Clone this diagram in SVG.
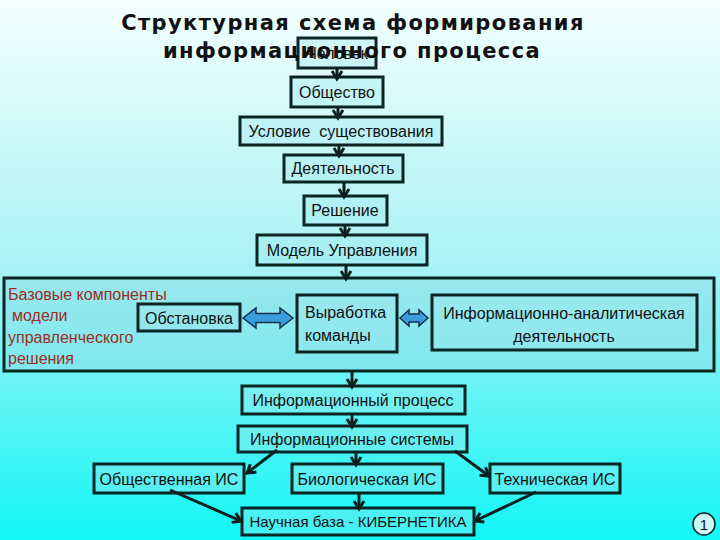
<svg xmlns="http://www.w3.org/2000/svg" width="720" height="540" viewBox="0 0 720 540">
<defs>
<linearGradient id="bg" x1="0" y1="0" x2="0" y2="1">
<stop offset="0" stop-color="#f4ffff"/>
<stop offset="0.5" stop-color="#a8f2f4"/>
<stop offset="1" stop-color="#12f6f6"/>
</linearGradient>
<marker id="ah" markerUnits="userSpaceOnUse" markerWidth="14" markerHeight="14" refX="10" refY="6" orient="auto" overflow="visible">
<path d="M2,1 L10,6 L2,11" fill="none" stroke="#0b1f1f" stroke-width="3" stroke-linejoin="miter"/>
</marker>
<style>
.box{fill:#9ee8ee;fill-opacity:0.35;stroke:#0b2424;stroke-width:3}
.frame{fill:#8fdce6;fill-opacity:0.45;stroke:#0b2424;stroke-width:3}
.t{font-family:"Liberation Sans",Arial,sans-serif;font-size:16px;fill:#111;text-anchor:middle;white-space:pre}
.tl{font-family:"Liberation Sans",Arial,sans-serif;font-size:16px;fill:#111}
.red{font-family:"Liberation Sans",Arial,sans-serif;font-size:16px;fill:#9a2e22}
.title{font-family:"DejaVu Sans",sans-serif;font-weight:bold;font-size:21px;fill:#111;text-anchor:middle;letter-spacing:1.4px}
.c{stroke:#0b1f1f;stroke-width:3;fill:none;marker-end:url(#ah)}
.dbl{fill:#3a9ede;stroke:#17324a;stroke-width:1.5}
</style>
</defs>
<rect width="720" height="540" fill="url(#bg)"/>

<g id="n-chelovek"><rect class="box" x="298" y="38" width="78" height="30"/><text class="t" x="337" y="59">Человек</text></g>

<g id="title"><text class="title" x="353" y="30">Структурная схема формирования</text><text class="title" x="352" y="58">информационного процесса</text></g>

<g id="n-obshchestvo"><rect class="box" x="291" y="77" width="92" height="30"/><text class="t" x="337" y="98">Общество</text></g>
<g id="n-uslovie"><rect class="box" x="240" y="117" width="202" height="28"/><text class="t" x="341" y="137">Условие  существования</text></g>
<g id="n-deyatelnost"><rect class="box" x="284" y="155" width="119" height="27"/><text class="t" x="343" y="174">Деятельность</text></g>
<g id="n-reshenie"><rect class="box" x="304" y="196" width="83" height="29"/><text class="t" x="345" y="216">Решение</text></g>
<g id="n-model"><rect class="box" x="257" y="235" width="170" height="30"/><text class="t" x="342" y="256">Модель Управления</text></g>

<g id="n-frame"><rect class="frame" x="4" y="278" width="710" height="93"/>
<text class="red" x="8" y="300">Базовые компоненты</text>
<text class="red" x="12" y="321">модели</text>
<text class="red" x="8" y="343">управленческого</text>
<text class="red" x="8" y="364">решения</text></g>
<g id="n-obstanovka"><rect class="box" x="138" y="304" width="102" height="27"/><text class="t" x="189" y="324">Обстановка</text></g>
<g id="n-vyrabotka"><rect class="box" x="297" y="295" width="100" height="57"/><text class="tl" x="305" y="318">Выработка</text><text class="tl" x="305" y="341">команды</text></g>
<g id="n-analit"><rect class="box" x="432" y="295" width="265" height="55"/><text class="t" x="564" y="319">Информационно-аналитическая</text><text class="t" x="564" y="342">деятельность</text></g>

<g id="n-infproc"><rect class="box" x="242" y="386" width="223" height="28"/><text class="t" x="353" y="406">Информационный процесс</text></g>
<g id="n-infsys"><rect class="box" x="238" y="426" width="229" height="26"/><text class="t" x="352" y="445">Информационные системы</text></g>
<g id="n-obshis"><rect class="box" x="94" y="464" width="150" height="29"/><text class="t" x="169" y="485">Общественная ИС</text></g>
<g id="n-bio"><rect class="box" x="292" y="464" width="151" height="29"/><text class="t" x="367" y="485">Биологическая ИС</text></g>
<g id="n-tech"><rect class="box" x="490" y="464" width="130" height="29"/><text class="t" x="555" y="485">Техническая ИС</text></g>
<g id="n-nauch"><rect class="box" x="242" y="508" width="232" height="27"/><text class="t" x="358" y="527" style="font-size:15px">Научная база - КИБЕРНЕТИКА</text></g>

<g id="connectors">
<line class="c" x1="337" y1="68" x2="337" y2="79"/>
<line class="c" x1="338" y1="107" x2="338" y2="118"/>
<line class="c" x1="339" y1="145" x2="339" y2="156"/>
<line class="c" x1="344" y1="182" x2="344" y2="197"/>
<line class="c" x1="345" y1="225" x2="345" y2="236"/>
<line class="c" x1="346" y1="265" x2="346" y2="279"/>
<line class="c" x1="352" y1="371" x2="352" y2="387"/>
<line class="c" x1="352" y1="414" x2="352" y2="427"/>
<line class="c" x1="356" y1="452" x2="356" y2="465"/>
<line class="c" x1="359" y1="493" x2="359" y2="509"/>
<line class="c" x1="277" y1="450" x2="247" y2="473"/>
<line class="c" x1="455" y1="451" x2="489" y2="476"/>
<line class="c" x1="170" y1="490" x2="241" y2="521"/>
<line class="c" x1="536" y1="492" x2="475" y2="521"/>
<path class="dbl" d="M243,318 L256,308 L256,313.5 L280,313.5 L280,308 L293,318 L280,328 L280,322.5 L256,322.5 L256,328 Z"/>
<path class="dbl" d="M400,318 L409,310 L409,314 L419,314 L419,310 L428,318 L419,326 L419,322 L409,322 L409,326 Z"/>
</g>

<g id="page"><circle cx="704" cy="524" r="11" fill="#c8f8f8" stroke="#0b2424" stroke-width="1.5"/><text x="704" y="530" font-family="Liberation Sans,Arial,sans-serif" font-size="15" text-anchor="middle" fill="#111">1</text></g>
</svg>
